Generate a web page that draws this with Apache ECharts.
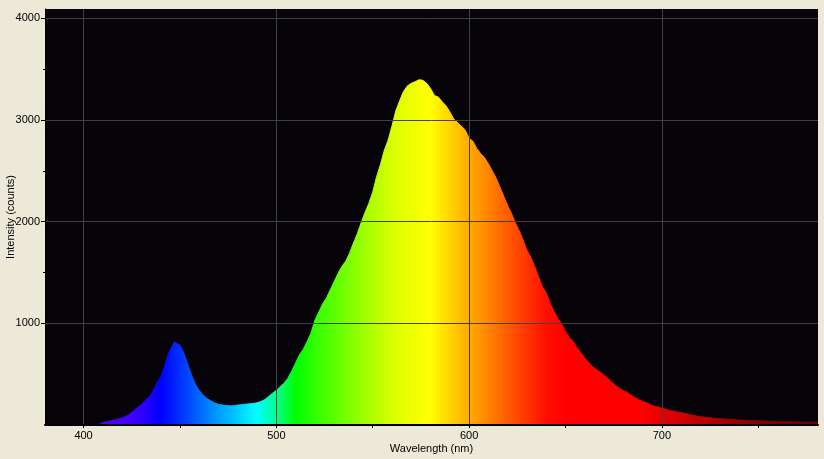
<!DOCTYPE html>
<html>
<head>
<meta charset="utf-8">
<script src="https://cdn.jsdelivr.net/npm/echarts@6/dist/echarts.min.js"></script>
<style>
html,body{margin:0;padding:0;background:#ECE9D8;}
#chart{width:824px;height:459px;}
</style>
</head>
<body>
<div id="chart"></div>
<script>
// Wavelength (nm) samples and intensity (counts)
var wavelengths = [404,408,410,412,414,416,418,420,422,424,426,428,430,432,434,436,438,440,442,444,446,447,448,450,452,454,456,458,460,462,464,466,468,470,472,474,476,478,480,482,484,486,488,490,492,494,496,498,500,502,504,506,508,510,512,514,516,518,520,522,524,526,528,530,532,534,536,538,540,542,544,546,548,550,552,554,556,558,560,562,564,566,568,570,572,574,575,576,578,580,582,584,586,588,590,592,594,596,598,600,602,604,606,608,610,612,614,616,618,620,622,624,626,628,630,632,634,636,638,640,642,644,646,648,650,652,654,656,658,660,662,664,666,668,670,672,674,676,678,680,682,684,686,688,690,692,694,696,698,700,702,704,706,708,710,712,714,716,718,720,722,724,726,728,730,734,738,742,746,750,754,758,762,766,770,774,778,781];
var counts = [0,5,25,32,40,48,58,66,85,108,138,172,200,240,275,330,410,475,575,700,775,815,800,785,710,600,490,400,340,295,260,238,218,202,196,192,188,190,196,200,205,208,212,218,230,250,280,312,340,378,410,460,530,610,690,745,820,905,1030,1110,1190,1250,1330,1410,1490,1560,1610,1690,1790,1880,1990,2090,2180,2290,2440,2560,2700,2800,2940,3090,3190,3280,3335,3360,3375,3395,3410,3390,3360,3310,3240,3225,3180,3140,3080,3010,2975,2940,2900,2820,2790,2720,2670,2630,2570,2500,2430,2340,2250,2160,2080,1990,1910,1820,1720,1650,1560,1460,1360,1300,1200,1120,1050,995,920,860,820,760,710,660,615,575,545,520,490,460,420,390,360,338,322,292,270,248,232,220,200,185,176,164,156,143,134,128,121,116,104,96,88,82,78,73,69,65,62,57,52,47,44,42,38,35,33,32,30,29,28,28];

// Axis ticks / labels
var xTickValues = [400,450,500,550,600,650,700,750];
var xLabelValues = [400,500,600,700];
var yTickValues = [1000,2000,3000,4000];
var yMinorTickValues = [1500,2500,3500];
var yLabelValues = [1000,2000,3000,4000];

// Spectrum colour stops, one per 10 nm from 380 to 780
var spectrumColors = ['#6000ff','#5e00ff','#5a00ff','#5200ff','#4800ff','#3000ff','#0000ff','#0030ff','#0068ff','#009cff','#00ccff','#00ffff','#00ff90','#00ff00','#30ff00','#5cff00','#88ff00','#b0ff00','#d8ff00','#eeff00','#ffff00','#ffd400','#ffaa00','#ff8400','#ff5c00','#ff3400','#ff1000','#ff0000','#ff0000','#ff0000','#ff0000','#ff0000','#e60000','#d00000','#bc0000','#a80000','#960000','#880000','#7c0000','#720000','#6c0000'];

var seriesData = wavelengths.map(function (w, i) { return [w, counts[i]]; });

var gridMarks = xLabelValues.map(function (v) { return { xAxis: v }; })
  .concat(yLabelValues.map(function (v) { return { yAxis: v }; }));

var font = '"Liberation Sans", Arial, sans-serif';
function plain(v) { return String(v); }
var chart = echarts.init(document.getElementById('chart'), null, { renderer: 'canvas' });
chart.setOption({
  animation: false,
  backgroundColor: '#ECE9D8',
  grid: { left: 45, right: 6, top: 9, bottom: 34, show: true, backgroundColor: '#060409', borderWidth: 0, containLabel: false, outerBoundsMode: 'none' },
  xAxis: {
    type: 'value', min: 380, max: 781, z: 5,
    name: 'Wavelength (nm)', nameLocation: 'middle', nameGap: 18, nameMoveOverlap: false,
    nameTextStyle: { color: '#000', fontSize: 11, fontFamily: font },
    axisLine: { show: true, lineStyle: { color: '#000', width: 2 } },
    axisTick: { show: true, customValues: xTickValues, length: 3, lineStyle: { color: '#000' } },
    axisLabel: { customValues: xLabelValues, formatter: plain, color: '#000', fontSize: 11, fontFamily: font, margin: 5 },
    splitLine: { show: false }
  },
  yAxis: [{
    type: 'value', min: 0, max: 4091, z: 5,
    name: 'Intensity (counts)', nameLocation: 'middle', nameGap: 29, nameMoveOverlap: false,
    nameTextStyle: { color: '#000', fontSize: 11, fontFamily: font },
    axisLine: { show: true, lineStyle: { color: '#000', width: 1 } },
    axisTick: { show: true, customValues: yTickValues, length: 4, lineStyle: { color: '#000' } },
    axisLabel: { customValues: yLabelValues, formatter: plain, color: '#000', fontSize: 11, fontFamily: font, margin: 5 },
    splitLine: { show: false }
  }, {
    type: 'value', min: 0, max: 4091, z: 5, position: 'left',
    axisLine: { show: false },
    axisTick: { show: true, customValues: yMinorTickValues, length: 2, lineStyle: { color: '#000' } },
    axisLabel: { show: false },
    splitLine: { show: false }
  }],
  visualMap: {
    show: false, type: 'continuous', dimension: 0, seriesIndex: 0,
    min: 380, max: 780,
    inRange: { color: spectrumColors }
  },
  series: [{
    type: 'line',
    data: seriesData,
    showSymbol: false,
    symbol: 'none',
    lineStyle: { width: 1 },
    areaStyle: { opacity: 1 },
    z: 2,
    silent: true
  }, {
    type: 'line',
    data: [],
    z: 4,
    silent: true,
    markLine: {
      silent: true,
      symbol: ['none', 'none'],
      label: { show: false },
      lineStyle: { color: '#404040', width: 1, type: 'solid' },
      data: gridMarks
    }
  }]
});
</script>
</body>
</html>
